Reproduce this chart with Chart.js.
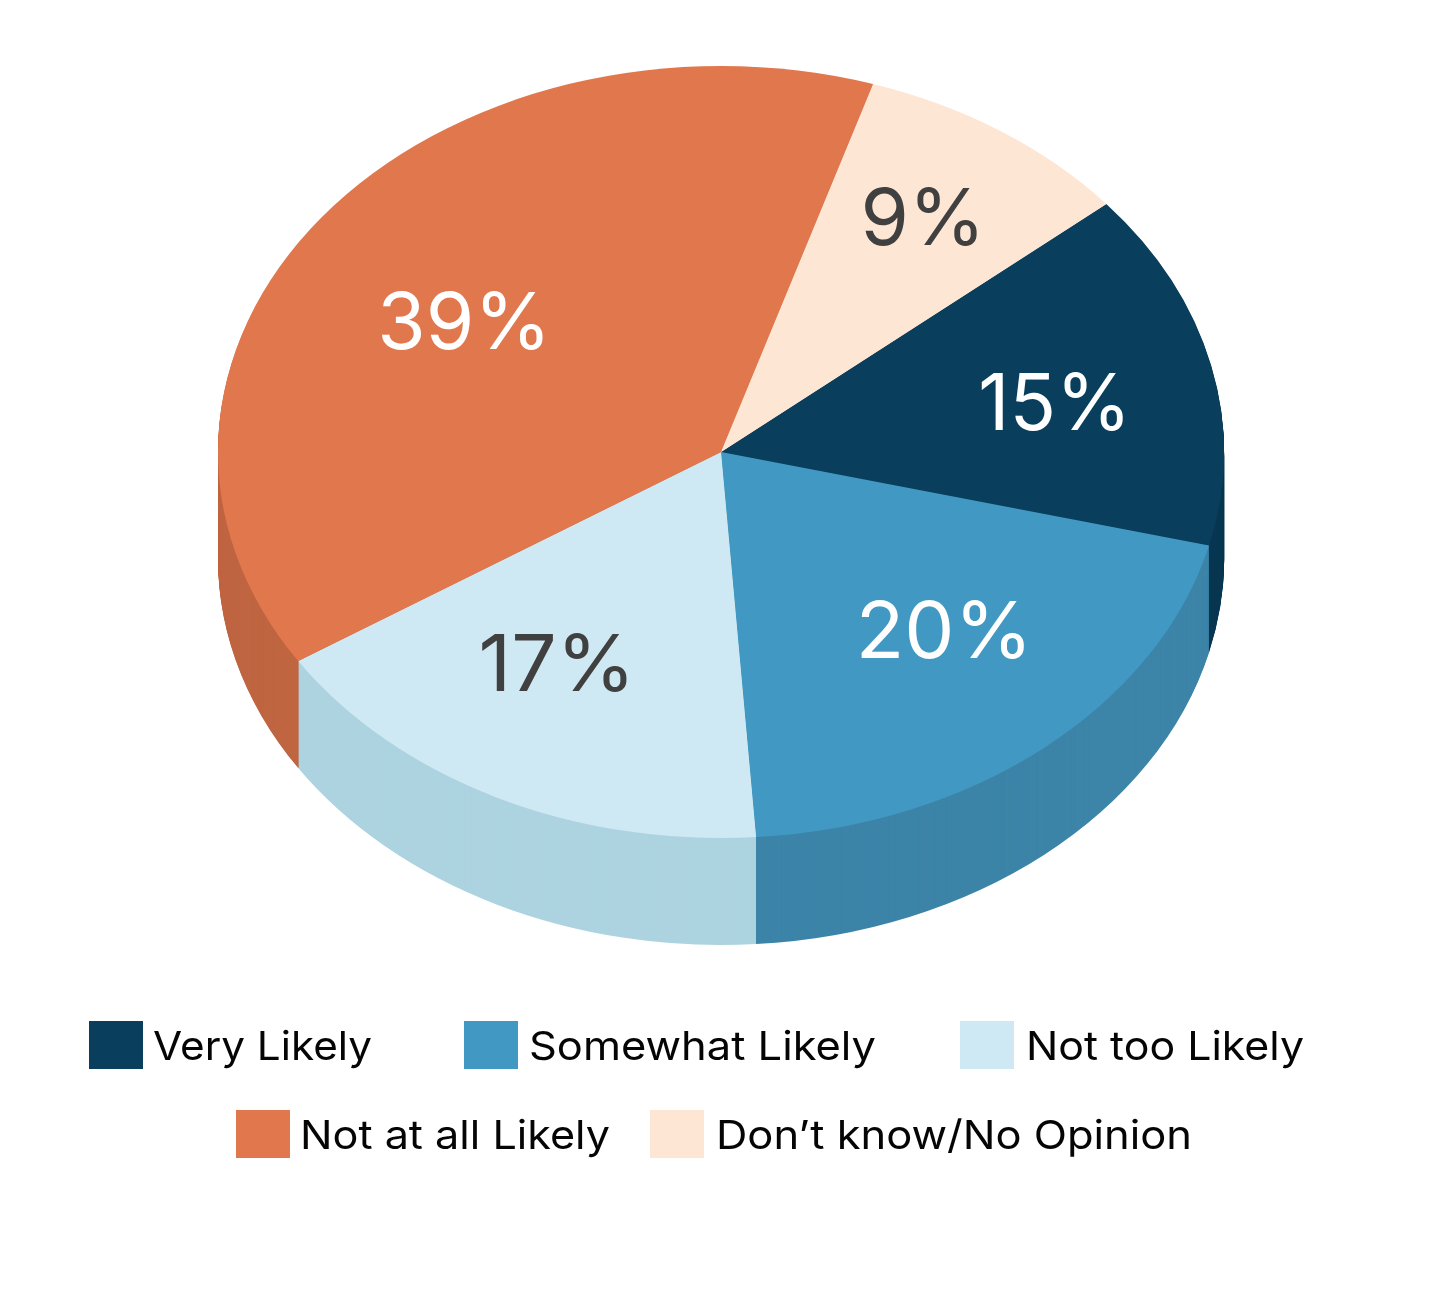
<!DOCTYPE html>
<html lang="en">
<head>
<meta charset="utf-8">
<title>Likelihood pie chart</title>
<script src="https://cdn.jsdelivr.net/npm/chart.js@4/dist/chart.umd.min.js"></script>
<style>
html,body{margin:0;padding:0;background:#fff;}
canvas{display:block;}
</style>
</head>
<body>
<canvas id="c" width="1440" height="1290"></canvas>
<script>
const categories = ["Very Likely", "Somewhat Likely", "Not too Likely", "Not at all Likely", "Don\u2019t know/No Opinion"];
const shares = [15, 20, 17, 39, 9];
const valueLabels = ["15%", "20%", "17%", "39%", "9%"];
const topColors = ["#093E5D", "#4199C3", "#CFE9F4", "#E1784D", "#FEE6D5"];
const sideColors = ["#093752", "#3C84A8", "#ADD3E0", "#BF6540", "#FEE6D5"];
const labelColors = ["#FFFFFF", "#FFFFFF", "#404040", "#FFFFFF", "#404040"];

// Layout of the tilted pie
const CX = 721, CY = 452, RADIUS = 503, SQUASH = 386 / 503, DEPTH = 107, START_ANGLE = 50;
const FONT = '"Inter", sans-serif';
const labelNudge = [[3, 9], [5, -22], [-12, -22], [13, 27], [13, -18]];
const labelWidth = [153, 177, 157, 174, 125];
const legendLayout = [
  {box: 89, text: 153, end: 372, y: 1021},
  {box: 464, text: 529, end: 876, y: 1021},
  {box: 960, text: 1026, end: 1304, y: 1021},
  {box: 236, text: 300, end: 610, y: 1110},
  {box: 650, text: 716, end: 1192, y: 1110}
];

function tilt(ctx, dy) {
  ctx.translate(CX, CY + dy);
  ctx.scale(1, SQUASH);
  ctx.translate(-CX, -CY);
}
function fitText(ctx, text, x, y, width) {
  const m = ctx.measureText(text).width;
  ctx.save();
  ctx.translate(x, y);
  ctx.scale(width / m, 1);
  ctx.fillText(text, 0, 0);
  ctx.restore();
}

const tiltedPie = {
  id: "tiltedPie",
  beforeDatasetsDraw(chart) {
    const ctx = chart.ctx;
    const arcs = chart.getDatasetMeta(0).data;
    for (let d = DEPTH; d >= 1; d--) {
      ctx.save();
      tilt(ctx, d);
      arcs.forEach((arc, i) => {
        const original = arc.options;
        arc.options = {...original, backgroundColor: sideColors[i]};
        arc.draw(ctx);
        arc.options = original;
      });
      ctx.restore();
    }
    ctx.save();
    tilt(ctx, 0);
  },
  afterDatasetsDraw(chart) {
    chart.ctx.restore();
  },
  afterDraw(chart) {
    const ctx = chart.ctx;
    const arcs = chart.getDatasetMeta(0).data;
    ctx.save();
    ctx.textAlign = "left";
    ctx.textBaseline = "alphabetic";
    ctx.font = '400 78px ' + FONT;
    arcs.forEach((arc, i) => {
      const p = arc.getCenterPoint();
      const cx = CX + (p.x - CX) * 1.35 + labelNudge[i][0];
      const cy = CY + (p.y - CY) * 1.35 * SQUASH + labelNudge[i][1];
      ctx.fillStyle = labelColors[i];
      fitText(ctx, valueLabels[i], cx - labelWidth[i] / 2, cy + 28, labelWidth[i]);
    });
    ctx.font = '400 40px ' + FONT;
    categories.forEach((name, i) => {
      const l = legendLayout[i];
      ctx.fillStyle = topColors[i];
      ctx.fillRect(l.box, l.y, 54, 48);
      ctx.fillStyle = "#050505";
      fitText(ctx, name, l.text, l.y + 39, l.end - l.text);
    });
    ctx.restore();
  }
};

new Chart(document.getElementById("c"), {
  type: "pie",
  data: {
    labels: categories,
    datasets: [{
      data: shares,
      backgroundColor: topColors,
      borderWidth: 0,
      clip: false
    }]
  },
  options: {
    responsive: false,
    animation: false,
    events: [],
    rotation: START_ANGLE,
    radius: RADIUS,
    layout: {padding: {left: CX - RADIUS, right: 1440 - CX - RADIUS, top: 0, bottom: 1290 - 2 * CY}},
    plugins: {legend: {display: false}, tooltip: {enabled: false}, title: {display: false}}
  },
  plugins: [tiltedPie]
});
</script>
</body>
</html>
